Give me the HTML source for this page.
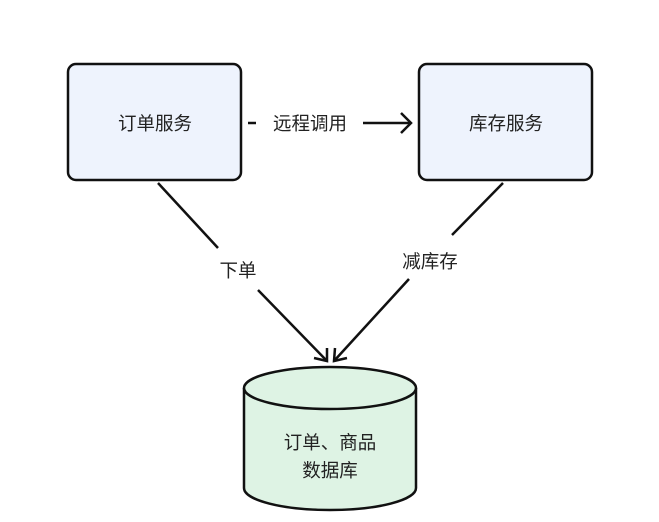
<!DOCTYPE html>
<html><head><meta charset="utf-8"><style>
html,body{margin:0;padding:0;background:#fff;}
svg{display:block;}
text{font-family:"Liberation Sans","Noto Sans CJK SC",sans-serif;font-size:18.5px;fill:#222;}
</style></head><body>
<svg width="659" height="522" viewBox="0 0 659 522">
<rect x="68" y="64" width="173" height="116" rx="8" fill="#eef3fd" stroke="#111" stroke-width="2.5"/>
<rect x="419" y="64" width="173" height="116" rx="8" fill="#eef3fd" stroke="#111" stroke-width="2.5"/>
<text x="155" y="130" text-anchor="middle">订单服务</text>
<text x="506" y="130" text-anchor="middle">库存服务</text>
<g stroke="#111" stroke-width="2.5" fill="none">
<line x1="248" y1="123" x2="256" y2="123"/>
<line x1="363" y1="123" x2="411" y2="123"/>
<polyline points="401,113 411,123 401,133"/>
<line x1="158" y1="183" x2="218" y2="248"/>
<line x1="258" y1="290" x2="327" y2="361"/>
<polyline points="314,358 327,361 327,348"/>
<line x1="503" y1="183" x2="452" y2="235"/>
<line x1="409" y1="279" x2="334" y2="361"/>
<polyline points="347,358 334,361 335,348"/>
</g>
<text x="310" y="130" text-anchor="middle">远程调用</text>
<text x="238" y="277" text-anchor="middle">下单</text>
<text x="430" y="268" text-anchor="middle">减库存</text>
<path d="M244,388 L244,488 A86,22 0 0 0 416,488 L416,388" fill="#def3e4" stroke="#111" stroke-width="2.5"/>
<ellipse cx="330" cy="388" rx="86" ry="21" fill="#def3e4" stroke="#111" stroke-width="2.5"/>
<text x="330" y="449" text-anchor="middle">订单、商品</text>
<text x="330" y="477" text-anchor="middle">数据库</text>
</svg>
</body></html>
